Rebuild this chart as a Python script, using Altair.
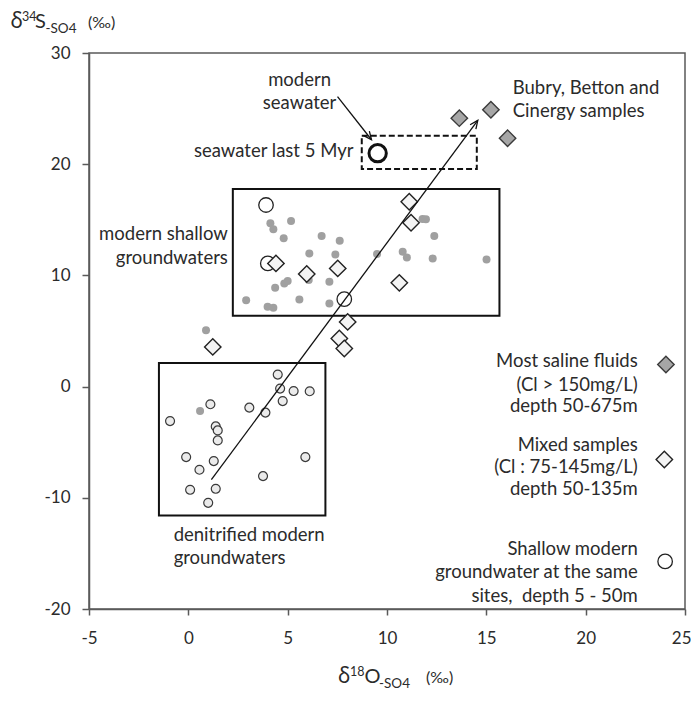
import altair as alt
import pandas as pd

# ---------------- data ----------------
# modern shallow groundwaters (small grey dots)
grey_x = [4.13, 4.28, 5.17, 4.80, 6.71, 7.62, 6.09, 7.40, 9.50, 10.79, 11.00, 11.79, 11.96,
          12.38, 12.30, 15.01, 4.83, 5.00, 4.37, 6.06, 7.10, 2.91, 3.99, 4.28, 5.59, 7.10,
          0.89, 0.59]
grey_y = [14.68, 14.14, 14.89, 13.33, 13.54, 13.12, 11.98, 11.89, 11.92, 12.13, 11.62, 15.07,
          15.04, 13.54, 11.53, 11.44, 9.28, 9.49, 8.88, 9.58, 9.42, 7.77, 7.17, 7.08, 7.84,
          7.48, 5.07, -2.20]

# denitrified modern groundwaters (small open circles)
denit_x = [4.50, 4.62, 5.30, 6.11, 4.75, 3.07, 3.88, 1.11, -0.92, 1.38, 1.48, 1.48, -0.11,
           1.28, 0.56, 5.89, 3.76, 0.09, 1.38, 1.00]
denit_y = [1.08, -0.18, -0.40, -0.42, -1.30, -1.89, -2.34, -1.59, -3.10, -3.58, -3.94, -4.84,
           -6.34, -6.70, -7.48, -6.34, -8.05, -9.28, -9.19, -10.45]

# shallow modern groundwater at the same sites (large open circles)
shallow_x = [3.91, 4.00, 7.85]
shallow_y = [16.33, 11.08, 7.86]

# mixed samples (white diamonds)
mixed_x = [4.41, 5.96, 7.52, 11.12, 11.21, 10.62, 8.02, 7.60, 7.85, 1.23]
mixed_y = [11.08, 10.12, 10.63, 16.63, 14.74, 9.33, 5.82, 4.32, 3.42, 3.57]

# most saline fluids (grey diamonds)
saline_x = [13.64, 15.23, 16.07]
saline_y = [24.14, 24.89, 22.34]

# modern seawater
sea_x = [9.53]
sea_y = [20.99]

# boxes: denitrified, modern shallow; seawater last 5 Myr (dashed)
box_x1 = [-1.48, 2.24]
box_x2 = [6.90, 15.66]
box_y1 = [-11.60, 6.38]
box_y2 = [2.12, 17.77]
dash_x1, dash_x2, dash_y1, dash_y2 = [8.73], [14.52], [19.57], [22.56]

# arrows (start x, start y, end x, end y, head angle)
arrow_x1 = [1.16, 7.51]
arrow_y1 = [-8.37, 26.07]
arrow_x2 = [14.57, 9.22]
arrow_y2 = [23.94, 22.20]
arrow_angle = [36.6, 141.7]

# annotation text lines
ann_center = ["modern", "seawater"]
ann_center_x = [5.6, 5.6]
ann_center_y = [27.6, 25.53]

ann_left = ["Bubry, Betton and", "Cinergy samples", "denitrified modern", "groundwaters"]
ann_left_x = [16.33, 16.33, -0.74, -0.74]
ann_left_y = [26.85, 24.75, -13.32, -15.40]

ann_right = ["seawater last 5 Myr", "modern shallow", "groundwaters",
             "Most saline fluids", "(Cl > 150mg/L)", "depth 50-675m",
             "Mixed samples", "(Cl : 75-145mg/L)", "depth 50-135m",
             "Shallow modern", "groundwater at the same", "sites,\u00a0 depth 5 - 50m"]
ann_right_x = [8.31, 1.99, 1.99, 22.62, 22.62, 22.62, 22.62, 22.62, 22.62, 22.62, 22.62, 22.62]
ann_right_y = [21.15, 13.70, 11.60, 2.27, 0.17, -1.72, -5.29, -7.23, -9.21, -14.58, -16.65, -18.80]

# legend symbols
leg_saline = (24.04, 1.99)
leg_mixed = (23.96, -6.55)
leg_circle = (24.0, -15.72)

x_ticks = [-5, 0, 5, 10, 15, 20, 25]
y_ticks = [-20, -10, 0, 10, 20, 30]

# ---------------- styling ----------------
FONT = "Lato, 'Noto Sans', 'DejaVu Sans', sans-serif"
GREEK = "'Noto Sans', 'DejaVu Sans', sans-serif"
TXT = "#2b2b2b"
AX = "#5a5a5a"
FS = 18.5

xs = alt.Scale(domain=[-5, 25], nice=False, zero=False)
ys = alt.Scale(domain=[-20, 30], nice=False, zero=False)

X_AXIS = alt.Axis(
    values=x_ticks, title=None, grid=False, tickSize=6, tickWidth=1.5,
    tickColor=AX, domainColor=AX, domainWidth=1.5, labelFont=FONT,
    labelFontSize=17, labelColor=TXT, labelPadding=15, labelFlush=False,
    labelOverlap=False, labelExpr="'' + datum.value",
    labelAlign={"condition": {"test": "datum.value == 25", "value": "right"}, "value": "center"},
    labelOffset={"condition": {"test": "datum.value == 25", "value": 6}, "value": 0},
)
Y_AXIS = alt.Axis(
    values=y_ticks, title=None, grid=False, tickSize=7, tickWidth=1.5,
    tickColor=AX, domainColor=AX, domainWidth=1.5, labelFont=FONT,
    labelFontSize=17, labelColor=TXT, labelPadding=12, labelFlush=False,
    labelOverlap=False, labelExpr="'' + datum.value")


def X(f="x"):
    return alt.X(f"{f}:Q", scale=xs, axis=X_AXIS)


def Y(f="y"):
    return alt.Y(f"{f}:Q", scale=ys, axis=Y_AXIS)


def df(**cols):
    return pd.DataFrame(cols)


def pts(xv, yv, **mark):
    return alt.Chart(df(x=xv, y=yv)).mark_point(opacity=1, **mark).encode(x=X(), y=Y())


grey = pts(grey_x, grey_y, shape="circle", filled=True, fill="#a0a0a0", size=64, strokeWidth=0)

boxes = alt.Chart(df(x=box_x1, x2=box_x2, y=box_y1, y2=box_y2)).mark_rect(
    fillOpacity=0, stroke="#111111", strokeWidth=2
).encode(x=X(), x2="x2:Q", y=Y(), y2="y2:Q")

dashed = alt.Chart(df(x=dash_x1, x2=dash_x2, y=dash_y1, y2=dash_y2)).mark_rect(
    fillOpacity=0, stroke="#111111", strokeWidth=2, strokeDash=[6, 3]
).encode(x=X(), x2="x2:Q", y=Y(), y2="y2:Q")

denit = pts(denit_x, denit_y, shape="circle", filled=True, fill="#ebebeb",
            stroke="#3a3a3a", strokeWidth=1.2, size=80)

shallow = pts(shallow_x + [leg_circle[0]], shallow_y + [leg_circle[1]], shape="circle",
              filled=True, fill="#ffffff", stroke="#222222", strokeWidth=1.3, size=210)

sea = pts(sea_x, sea_y, shape="circle", filled=True, fill="#ffffff", stroke="#111111",
          strokeWidth=3, size=300)

mixed = pts(mixed_x + [leg_mixed[0]], mixed_y + [leg_mixed[1]], shape="diamond",
            filled=True, fill="#f4f4f4", stroke="#222222", strokeWidth=1.4, size=270)

saline = pts(saline_x + [leg_saline[0]], saline_y + [leg_saline[1]], shape="diamond",
             filled=True, fill="#a6a6a6", stroke="#3a3a3a", strokeWidth=1.4, size=270)

arrows = alt.Chart(df(x=arrow_x1, y=arrow_y1, x2=arrow_x2, y2=arrow_y2)).mark_rule(
    color="#111111", strokeWidth=1.3
).encode(x=X(), x2="x2:Q", y=Y(), y2="y2:Q")

heads = alt.Chart(df(x=arrow_x2, y=arrow_y2, a=arrow_angle)).mark_point(
    shape="M-0.45,1L0,0L0.45,1", filled=False, stroke="#111111", strokeWidth=1.3,
    opacity=1, size=260
).encode(x=X(), y=Y(), angle=alt.Angle("a:Q", scale=None))


def texts(labels, xv, yv, align):
    return alt.Chart(df(t=labels, x=xv, y=yv)).mark_text(
        align=align, baseline="middle", font=FONT, fontSize=FS, color=TXT
    ).encode(x=X(), y=Y(), text="t:N")


t_center = texts(ann_center, ann_center_x, ann_center_y, "center")
t_left = texts(ann_left, ann_left_x, ann_left_y, "left")
t_right = texts(ann_right, ann_right_x, ann_right_y, "right")

one = pd.DataFrame({"k": [0]})


def piece(txt, px, py, size, font=FONT):
    return alt.Chart(one).mark_text(
        text=txt, align="left", baseline="alphabetic", font=font, fontSize=size, color=TXT
    ).encode(x=alt.value(px), y=alt.value(py))


# axis titles built from pieces (pixel positions relative to the plot area)
y_title = [
    piece("δ", -78.5, -25, 21, GREEK),
    piece("34", -67, -32, 12.5),
    piece("S", -54, -25, 20),
    piece("-SO4", -43.5, -20, 13.5),
    piece("(‰)", -1, -25, 16),
]
x_title = [
    piece("δ", 249, 630, 21, GREEK),
    piece("18", 261, 623, 12.5),
    piece("O", 275.5, 630, 20),
    piece("-SO4", 290, 635, 13.5),
    piece("(‰)", 337, 630, 16),
]

chart = alt.layer(
    grey, boxes, dashed, denit, shallow, sea, mixed, saline, arrows, heads,
    t_center, t_left, t_right, *y_title, *x_title
).properties(
    width=596, height=556,
    padding={"left": 81, "top": 45, "right": 6, "bottom": 84},
    autosize=alt.AutoSizeParams(type="none"),
    background="#ffffff",
).configure_view(
    stroke=AX, strokeWidth=1.5
)

chart.save("out.html", embed_options={"renderer": "svg", "actions": False})
